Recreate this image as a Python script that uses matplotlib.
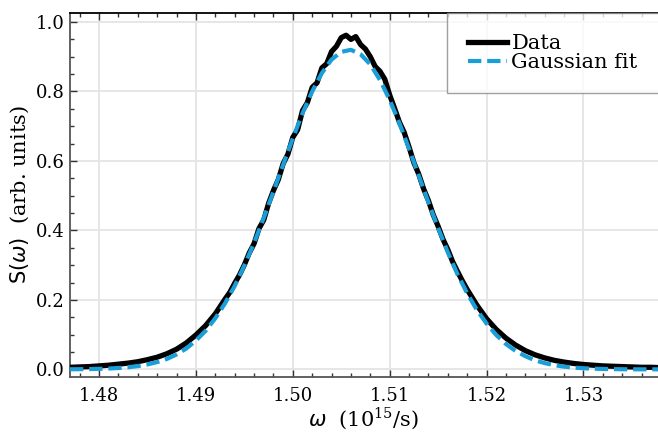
import numpy as np
import matplotlib
matplotlib.use("Agg")
import matplotlib.pyplot as plt
from matplotlib.ticker import MultipleLocator

# Data curve (omega in 1e15/s, S in arb. units)
data_x = [1.477, 1.478, 1.479, 1.480, 1.481, 1.482, 1.483, 1.484, 1.485, 1.486,
          1.487, 1.488, 1.489, 1.490, 1.491, 1.492, 1.493,
          1.4935, 1.494, 1.4945, 1.495, 1.4955, 1.496, 1.4965, 1.497, 1.4975, 1.498,
          1.4985, 1.499, 1.4995, 1.500, 1.5005, 1.501, 1.5015, 1.502, 1.5025, 1.503,
          1.5035, 1.504, 1.5045, 1.505, 1.5055, 1.506, 1.5065, 1.507, 1.5075, 1.508,
          1.5085, 1.509, 1.5095, 1.510, 1.5105, 1.511, 1.5115, 1.512, 1.5125, 1.513,
          1.5135, 1.514, 1.5145, 1.515, 1.5155, 1.516, 1.5165, 1.517, 1.5175,
          1.518, 1.519, 1.520, 1.521, 1.522, 1.523, 1.524, 1.525, 1.526, 1.527,
          1.528, 1.529, 1.530, 1.531, 1.532, 1.533, 1.534, 1.535, 1.536, 1.537, 1.538]
data_y = [0.006, 0.007, 0.008, 0.010, 0.012, 0.015, 0.018, 0.022, 0.028, 0.035,
          0.045, 0.058, 0.076, 0.099, 0.126, 0.160, 0.202,
          0.222, 0.248, 0.272, 0.301, 0.335, 0.362, 0.405, 0.430, 0.478, 0.515,
          0.546, 0.592, 0.620, 0.668, 0.690, 0.745, 0.768, 0.812, 0.825, 0.868,
          0.880, 0.915, 0.930, 0.955, 0.962, 0.950, 0.958, 0.935, 0.922, 0.900,
          0.872, 0.858, 0.835, 0.790, 0.752, 0.712, 0.682, 0.640, 0.595, 0.562,
          0.520, 0.486, 0.445, 0.412, 0.375, 0.345, 0.310, 0.282, 0.255,
          0.230, 0.185, 0.146, 0.115, 0.090, 0.070, 0.054, 0.042, 0.033, 0.026,
          0.021, 0.017, 0.014, 0.012, 0.010, 0.009, 0.008, 0.007, 0.006, 0.006, 0.005]

# Gaussian fit curve
fit_x = [1.477, 1.478, 1.479, 1.480, 1.481, 1.482, 1.483, 1.484, 1.485, 1.486,
         1.487, 1.488, 1.489, 1.490, 1.491, 1.492, 1.493, 1.494, 1.495, 1.496,
         1.497, 1.498, 1.499, 1.500, 1.501, 1.502, 1.503, 1.504, 1.505, 1.506,
         1.507, 1.508, 1.509, 1.510, 1.511, 1.512, 1.513, 1.514, 1.515, 1.516,
         1.517, 1.518, 1.519, 1.520, 1.521, 1.522, 1.523, 1.524, 1.525, 1.526,
         1.527, 1.528, 1.529, 1.530, 1.531, 1.532, 1.533, 1.534, 1.535, 1.536,
         1.537, 1.538]
fit_y = [0.0003, 0.0005, 0.0009, 0.0015, 0.0024, 0.0039, 0.0061, 0.0094, 0.0142, 0.021,
         0.030, 0.043, 0.060, 0.083, 0.111, 0.147, 0.190, 0.240, 0.299, 0.364,
         0.436, 0.512, 0.589, 0.665, 0.737, 0.800, 0.853, 0.892, 0.914, 0.920,
         0.907, 0.878, 0.833, 0.776, 0.709, 0.635, 0.558, 0.481, 0.407, 0.337,
         0.274, 0.219, 0.171, 0.132, 0.099, 0.073, 0.053, 0.038, 0.026, 0.018,
         0.012, 0.0079, 0.0051, 0.0032, 0.0020, 0.0012, 0.0007, 0.0004, 0.0002, 0.0001,
         0.0001, 0.0]

plt.rcParams['font.family'] = 'DejaVu Serif'
plt.rcParams['mathtext.fontset'] = 'custom'
plt.rcParams['mathtext.rm'] = 'DejaVu Serif'
plt.rcParams['mathtext.it'] = 'DejaVu Sans:italic'
plt.rcParams['mathtext.sf'] = 'DejaVu Sans'

fig = plt.figure(figsize=(6.58, 4.36), dpi=100)
ax = fig.add_axes([0.1064, 0.1353, 0.8936, 0.8349])

ax.plot(data_x, data_y, color='black', lw=3.8, label='Data', zorder=3)
ax.plot(fit_x, fit_y, color='#1a9ed8', lw=3.0, ls=(0, (3.2, 1.4)), label='Gaussian fit', zorder=4)

ax.set_xlim(1.4770, 1.5377)
ax.set_ylim(-0.022, 1.026)

ax.xaxis.set_major_locator(MultipleLocator(0.01))
ax.xaxis.set_minor_locator(MultipleLocator(0.002))
ax.yaxis.set_major_locator(MultipleLocator(0.2))
ax.yaxis.set_minor_locator(MultipleLocator(0.05))
ax.xaxis.set_major_formatter(plt.FormatStrFormatter('%.2f'))
ax.yaxis.set_major_formatter(plt.FormatStrFormatter('%.1f'))

ax.grid(True, which='major', color='#e4e4e4', lw=1.3, zorder=0)
ax.set_axisbelow(True)

ax.tick_params(which='both', direction='in', top=True, right=False, labelsize=13,
               color='#333333')
ax.tick_params(axis='x', which='both', pad=7)
ax.tick_params(axis='y', which='both', pad=4)
ax.tick_params(which='major', length=5, width=1)
ax.tick_params(which='minor', length=3, width=1)

for side in ['left', 'bottom']:
    ax.spines[side].set_color('#555555')
    ax.spines[side].set_linewidth(1.3)
ax.spines['top'].set_color('black')
ax.spines['top'].set_linewidth(1.3)
ax.spines['right'].set_visible(False)

ax.set_xlabel(r'$\omega$  (10$^{15}$/s)', fontsize=15, labelpad=1)
ax.set_ylabel(r'$\mathsf{S(}\omega\mathsf{)}$  (arb. units)', fontsize=15, labelpad=3)

# legend box runs off the right edge of the figure, as in the reference
leg = ax.legend(loc='upper left', fontsize=15, frameon=True, fancybox=False,
                handlelength=1.9, handletextpad=0.2, borderpad=1.0, labelspacing=0.0,
                borderaxespad=0.0, bbox_to_anchor=(0.641, 0.0, 0.42, 1.0), mode='expand')
leg.get_frame().set_edgecolor('#888888')
leg.get_frame().set_linewidth(1.0)

fig.savefig('out.png', dpi=100)
